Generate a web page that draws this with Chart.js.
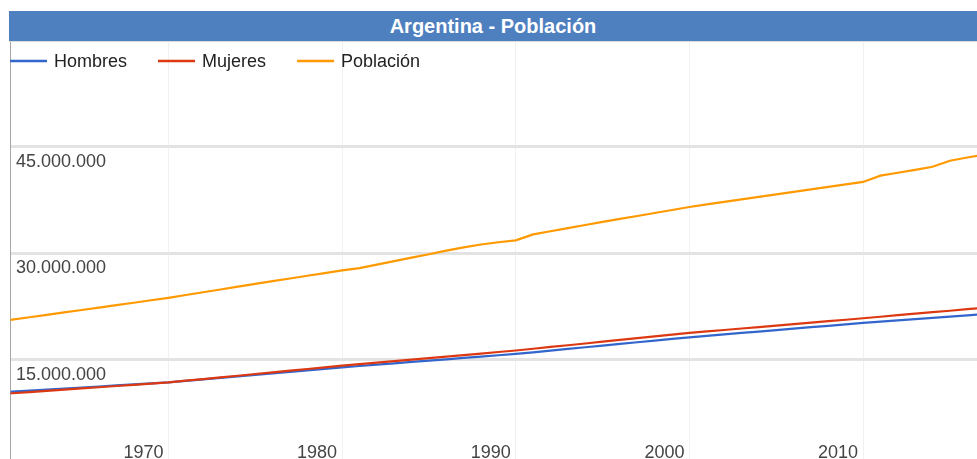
<!DOCTYPE html>
<html lang="es">
<head>
<meta charset="utf-8">
<title>Argentina - Población</title>
<script src="https://cdn.jsdelivr.net/npm/chart.js@4.4.1/dist/chart.umd.min.js"></script>
<style>
  html, body { margin: 0; padding: 0; background: #fff; overflow: hidden; }
  #wrap { position: relative; width: 977px; height: 459px; overflow: hidden; }
  #titleBar {
    position: absolute; left: 9px; top: 11px; width: 968px; height: 30px;
    background: #4e7fbf; color: #fff; border-bottom: 1px solid #dcdcdc;
    font: bold 20px Arial, 'Liberation Sans', sans-serif;
    line-height: 30px; text-align: center; z-index: 2;
  }
  #chart { position: absolute; left: 0; top: 0; }
</style>
</head>
<body>
<div id="wrap">
  <div id="titleBar">Argentina - Población</div>
  <!-- canvas is a bit taller than the view: the x axis strip falls below the crop -->
  <canvas id="chart" width="977" height="476"></canvas>
</div>
<script>
// Data
const years = [
  1960, 1961, 1962, 1963, 1964, 1965, 1966, 1967, 1968, 1969,
  1970, 1971, 1972, 1973, 1974, 1975, 1976, 1977, 1978, 1979,
  1980, 1981, 1982, 1983, 1984, 1985, 1986, 1987, 1988, 1989,
  1990, 1991, 1992, 1993, 1994, 1995, 1996, 1997, 1998, 1999,
  2000, 2001, 2002, 2003, 2004, 2005, 2006, 2007, 2008, 2009,
  2010, 2011, 2012, 2013, 2014, 2015, 2016, 2017
];
const hombres = [
  10400000, 10540000, 10690000, 10830000, 10980000, 11120000, 11260000, 11410000, 11550000, 11700000,
  11840000, 12050000, 12270000, 12480000, 12690000, 12900000, 13110000, 13330000, 13540000, 13750000,
  13960000, 14150000, 14340000, 14530000, 14720000, 14910000, 15090000, 15280000, 15470000, 15660000,
  15850000, 16080000, 16320000, 16550000, 16790000, 17020000, 17250000, 17490000, 17720000, 17960000,
  18190000, 18390000, 18600000, 18800000, 19000000, 19210000, 19410000, 19610000, 19810000, 20020000,
  20220000, 20400000, 20570000, 20750000, 20920000, 21100000, 21270000, 21450000
];
const mujeres = [
  10140000, 10310000, 10480000, 10650000, 10820000, 10990000, 11160000, 11330000, 11500000, 11670000,
  11840000, 12080000, 12310000, 12550000, 12780000, 13020000, 13260000, 13490000, 13730000, 13960000,
  14200000, 14410000, 14630000, 14840000, 15050000, 15270000, 15480000, 15690000, 15900000, 16120000,
  16330000, 16580000, 16830000, 17070000, 17320000, 17570000, 17820000, 18070000, 18310000, 18560000,
  18810000, 19020000, 19220000, 19430000, 19630000, 19840000, 20050000, 20250000, 20460000, 20660000,
  20870000, 21080000, 21300000, 21510000, 21720000, 21930000, 22150000, 22360000
];
const poblacion = [
  20300000, 20670000, 21010000, 21350000, 21690000, 22030000, 22370000, 22710000, 23050000, 23400000,
  23750000, 24140000, 24530000, 24920000, 25320000, 25710000, 26090000, 26470000, 26850000, 27230000,
  27600000, 27930000, 28420000, 28910000, 29400000, 29880000, 30400000, 30850000, 31250000, 31570000,
  31830000, 32680000, 33120000, 33560000, 34000000, 34430000, 34850000, 35270000, 35690000, 36110000,
  36530000, 36890000, 37250000, 37610000, 37960000, 38310000, 38660000, 39010000, 39360000, 39710000,
  40060000, 40950000, 41350000, 41750000, 42200000, 43050000, 43500000, 43900000
];
const xTicks = [1970, 1980, 1990, 2000, 2010];
const yTicks = [15000000, 30000000, 45000000];

const FONT = "Arial, 'Liberation Sans', sans-serif";

function formatMiles(v) {
  return String(Math.round(v)).replace(/\B(?=(\d{3})+(?!\d))/g, '.');
}

function toPoints(values) {
  return years.map((y, i) => ({ x: y, y: values[i] }));
}

// Legend drawn inside the plot area, top left, as in the original
const insideLegend = {
  id: 'insideLegend',
  afterDraw(chart) {
    const ctx = chart.ctx;
    const y = 61;
    let x = 10;
    ctx.save();
    ctx.font = '18px ' + FONT;
    ctx.textBaseline = 'middle';
    ctx.textAlign = 'left';
    chart.data.datasets.forEach(ds => {
      ctx.strokeStyle = ds.borderColor;
      ctx.lineWidth = 2.5;
      ctx.beginPath();
      ctx.moveTo(x, y);
      ctx.lineTo(x + 37, y);
      ctx.stroke();
      ctx.fillStyle = '#222';
      ctx.fillText(ds.label, x + 44, y + 1);
      x += 44 + ctx.measureText(ds.label).width + 31;
    });
    ctx.restore();
  }
};

new Chart(document.getElementById('chart'), {
  type: 'line',
  data: {
    datasets: [
      { label: 'Hombres', data: toPoints(hombres), borderColor: '#3366cc', order: 3 },
      { label: 'Mujeres', data: toPoints(mujeres), borderColor: '#dc3912', order: 2 },
      { label: 'Población', data: toPoints(poblacion), borderColor: '#ff9900', order: 1 }
    ]
  },
  options: {
    responsive: false,
    animation: false,
    events: [],
    layout: { padding: { top: 41, left: 0, right: 0, bottom: 0 } },
    elements: {
      line: { borderWidth: 2.2, tension: 0, fill: false },
      point: { radius: 0 }
    },
    plugins: {
      legend: { display: false },
      tooltip: { enabled: false },
      title: { display: false }
    },
    scales: {
      x: {
        type: 'linear',
        min: 1960.91,
        max: 2016.56,
        afterBuildTicks: scale => { scale.ticks = xTicks.map(v => ({ value: v })); },
        grid: { color: '#f1f1f1', lineWidth: 1, drawTicks: false },
        border: { display: false },
        ticks: {
          mirror: true,
          padding: 0,
          labelOffset: -25,
          color: '#444',
          font: { family: FONT, size: 18, lineHeight: '14px' },
          callback: v => String(v)
        }
      },
      y: {
        min: 930000,
        max: 59900000,
        afterBuildTicks: scale => { scale.ticks = yTicks.map(v => ({ value: v })); },
        grid: { color: '#e3e3e3', lineWidth: 3, drawTicks: false },
        border: { display: true, color: '#aaa5a0', width: 1 },
        ticks: {
          mirror: true,
          padding: 5.3,
          labelOffset: 15,
          color: '#444',
          font: { family: FONT, size: 18 },
          callback: v => formatMiles(v)
        }
      }
    }
  },
  plugins: [insideLegend]
});
</script>
</body>
</html>
